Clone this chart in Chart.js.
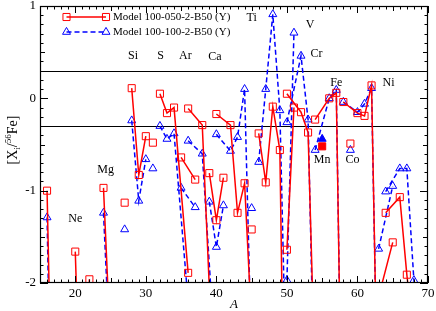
<!DOCTYPE html>
<html>
<head>
<meta charset="utf-8">
<script src="https://cdn.jsdelivr.net/npm/chart.js@4.4.0/dist/chart.umd.min.js"></script>
<style>
  html, body { margin: 0; padding: 0; background: #fff; }
</style>
</head>
<body>
<canvas id="chart" width="436" height="311"></canvas>
<script>
// Elements and their isotopes (mass number A)
const elements = ['O', 'Ne', 'Na', 'Mg', 'Al', 'Si', 'P', 'S', 'Cl', 'Ar', 'K', 'Ca', 'Sc', 'Ti', 'V', 'Cr', 'Mn', 'Fe', 'Co', 'Ni', 'Cu', 'Zn'];
const isotopes = [
  [16, 17, 18], [20, 21, 22], [23], [24, 25, 26], [27], [28, 29, 30], [31],
  [32, 33, 34, 36], [35, 37], [36, 38, 40], [39, 40, 41], [40, 42, 43, 44, 46, 48],
  [45], [46, 47, 48, 49, 50], [50, 51], [50, 52, 53, 54], [55], [54, 56, 57, 58],
  [59], [58, 60, 61, 62, 64], [63, 65], [64, 66, 67, 68, 70]
];

// [X_i/56Fe] for Model 100-050-2-B50 (Y)
const model050 = [
  [-1.00, -4.6, -4.5], [-1.66, -4.1, -1.96], [-2.4], [-0.97, -2.7, -2.5], [-1.13],
  [0.11, -0.83, -0.41], [-0.48], [0.05, -0.16, -0.10, -1.89], [-0.64, -0.88],
  [-0.11, -0.29, -3.8], [-0.81, -1.32, -0.86], [-0.17, -0.29, -1.24, -0.92, -4.0, -3.5],
  [-1.42], [-0.38, -0.91, -0.09, -0.56, -5.7], [-1.64, -0.10], [0.05, -0.15, -0.37, -3.1],
  [-0.52], [-0.23, 0.00, 0.06, -4.8], [-0.49], [-0.04, -0.16, -0.19, 0.14, -8],
  [-2.15, -1.56], [-1.24, -1.07, -1.91, -2.6, -3.0]
];

// [X_i/56Fe] for Model 100-100-2-B50 (Y)
const model100 = [
  [-1.29, -5.3, -5.0], [-2.6, -4.5, -2.7], [-2.6], [-1.24, -2.9, -2.7], [-1.42],
  [-0.24, -1.11, -0.66], [-0.76], [-0.30, -0.44, -0.38, -2.2], [-0.97, -1.18],
  [-0.46, -0.60, -3.0], [-1.12, -1.61, -1.16], [-0.39, -0.57, -0.42, 0.10, -5.8, -5.0],
  [-1.19], [-0.69, 0.10, 0.91, -0.13, -3.4], [-1.97, 0.71], [-0.26, 0.46, -0.23, -3.6],
  [-0.44], [-0.56, 0.00, 0.09, -4.8], [-0.56], [-0.04, -0.15, -0.06, 0.11, -8],
  [-1.63, -0.95], [-1.01, -0.76, -0.76, -1.97, -3.0]
];

// elements drawn with filled markers
const filledElements = ['Mn'];

// element name labels in the plot
const labelNames = ['Ne', 'Mg', 'Si', 'S', 'Ar', 'Ca', 'Ti', 'V', 'Cr', 'Fe', 'Ni', 'Mn', 'Co'];
const labelA =     [20.0, 24.3, 28.2, 32.1, 35.6, 39.8, 45.0, 53.3, 54.2, 57.0, 64.4, 55.0, 59.3];
const labelY =     [-1.31, -0.77, 0.46, 0.46, 0.46, 0.45, 0.87, 0.80, 0.48, 0.17, 0.17, -0.67, -0.67];

// axis ticks and reference lines
const xTicks = [20, 30, 40, 50, 60, 70];
const yTicks = [-2, -1, 0, 1];
const refLines = [0.3, -0.3];

const RED = 'rgb(255,0,0)';
const BLUE = 'rgb(0,0,255)';
const SERIF = '"Liberation Serif", "DejaVu Serif", serif';

// flatten into points, with a null between elements so lines break
function buildPoints(values) {
  const pts = [];
  elements.forEach((el, i) => {
    isotopes[i].forEach((a, j) => pts.push({ x: a, y: values[i][j], el: el }));
    pts.push({ x: isotopes[i][isotopes[i].length - 1], y: null, el: el });
  });
  return pts;
}

function fillFor(color) {
  return ctx => (ctx.raw && filledElements.includes(ctx.raw.el)) ? color : 'rgba(0,0,0,0)';
}

// Draws frame, inward ticks, labels, reference lines, legend and titles
const decorPlugin = {
  id: 'decor',
  beforeDatasetsDraw(chart) {
    const { ctx, chartArea: a, scales: { y } } = chart;
    ctx.save();
    ctx.strokeStyle = '#000';
    ctx.lineWidth = 1.2;
    refLines.forEach(v => {
      const py = Math.round(y.getPixelForValue(v)) + 0.5;
      ctx.beginPath();
      ctx.moveTo(a.left, py);
      ctx.lineTo(a.right, py);
      ctx.stroke();
    });
    ctx.restore();
  },
  afterDraw(chart) {
    const { ctx, chartArea: a, scales: { x, y } } = chart;
    ctx.save();
    ctx.strokeStyle = '#000';
    ctx.lineWidth = 1;

    // ticks
    ctx.beginPath();
    for (let v = 15; v <= 70; v++) {
      const px = Math.round(x.getPixelForValue(v)) + 0.5;
      const len = v % 10 === 0 ? 7 : (v % 5 === 0 ? 5 : 3.5);
      ctx.moveTo(px, a.bottom); ctx.lineTo(px, a.bottom - len);
      ctx.moveTo(px, a.top); ctx.lineTo(px, a.top + len);
    }
    for (let k = -20; k <= 10; k++) {
      const py = Math.round(y.getPixelForValue(k / 10)) + 0.5;
      const len = k % 10 === 0 ? 8 : (k % 5 === 0 ? 5 : 3.5);
      ctx.moveTo(a.left, py); ctx.lineTo(a.left + len, py);
      ctx.moveTo(a.right, py); ctx.lineTo(a.right - len, py);
    }
    ctx.stroke();

    // frame
    ctx.lineWidth = 1.2;
    ctx.strokeRect(a.left + 0.5, a.top + 0.5, a.right - a.left - 1, a.bottom - a.top - 1);

    // tick labels
    ctx.fillStyle = '#000';
    ctx.font = '13px ' + SERIF;
    ctx.textAlign = 'center';
    ctx.textBaseline = 'top';
    xTicks.forEach(v => ctx.fillText(String(v), x.getPixelForValue(v), a.bottom + 4));
    ctx.textAlign = 'right';
    ctx.textBaseline = 'middle';
    yTicks.forEach(v => ctx.fillText(v < 0 ? '-' + Math.abs(v) : String(v), a.left - 4, y.getPixelForValue(v)));

    // x title
    ctx.font = 'italic 13px ' + SERIF;
    ctx.textAlign = 'center';
    ctx.textBaseline = 'alphabetic';
    ctx.fillText('A', (a.left + a.right) / 2, 308);

    // y title: [X_i/56Fe]
    ctx.save();
    ctx.translate(15, 140);
    ctx.rotate(-Math.PI / 2);
    const big = '14px ' + SERIF, small = '9px ' + SERIF;
    const parts = [['[X', big, 0], ['i', small, 3], ['/', big, 0], ['56', small, -6], ['Fe]', big, 0]];
    let total = 0;
    parts.forEach(p => { ctx.font = p[1]; total += ctx.measureText(p[0]).width; });
    let cx = -total / 2;
    ctx.textAlign = 'left';
    parts.forEach(p => { ctx.font = p[1]; ctx.fillText(p[0], cx, 2 + p[2]); cx += ctx.measureText(p[0]).width; });
    ctx.restore();

    // element labels
    ctx.font = '12px ' + SERIF;
    ctx.textAlign = 'center';
    ctx.textBaseline = 'middle';
    labelNames.forEach((n, i) => ctx.fillText(n, x.getPixelForValue(labelA[i]), y.getPixelForValue(labelY[i])));

    // legend
    const rows = [
      { label: 'Model 100-050-2-B50 (Y)', color: RED, dash: [], style: 'rect', r: 5, ty: 17 },
      { label: 'Model 100-100-2-B50 (Y)', color: BLUE, dash: [5, 3], style: 'triangle', r: 4.6, ty: 32 }
    ];
    rows.forEach(row => {
      ctx.strokeStyle = row.color;
      ctx.lineWidth = 1.5;
      ctx.setLineDash(row.dash);
      ctx.beginPath();
      ctx.moveTo(66.5, row.ty); ctx.lineTo(106, row.ty);
      ctx.stroke();
      ctx.setLineDash([]);
      ctx.lineWidth = 1;
      ctx.fillStyle = 'rgba(0,0,0,0)';
      [66.5, 106].forEach(px => {
        Chart.helpers.drawPoint(ctx, { pointStyle: row.style, radius: row.r, borderWidth: 1 }, px, row.ty);
      });
      ctx.fillStyle = '#000';
      ctx.font = '11px ' + SERIF;
      ctx.textAlign = 'left';
      ctx.textBaseline = 'middle';
      ctx.fillText(row.label, 113, row.ty);
    });
    ctx.restore();
  }
};

new Chart(document.getElementById('chart').getContext('2d'), {
  type: 'line',
  data: {
    datasets: [
      {
        label: 'Model 100-050-2-B50 (Y)',
        data: buildPoints(model050),
        borderColor: RED,
        borderWidth: 1.5,
        pointStyle: 'rect',
        pointRadius: 5,
        pointBorderWidth: 1,
        pointBorderColor: RED,
        pointBackgroundColor: fillFor(RED),
        spanGaps: false,
        tension: 0
      },
      {
        label: 'Model 100-100-2-B50 (Y)',
        data: buildPoints(model100),
        borderColor: BLUE,
        borderWidth: 1.5,
        borderDash: [5, 3],
        pointStyle: 'triangle',
        pointRadius: 4.6,
        pointBorderWidth: 1,
        pointBorderColor: BLUE,
        pointBackgroundColor: fillFor(BLUE),
        spanGaps: false,
        tension: 0
      }
    ]
  },
  options: {
    responsive: false,
    animation: false,
    devicePixelRatio: 1,
    layout: { padding: { left: 40, right: 8, top: 5, bottom: 28 } },
    scales: {
      x: { type: 'linear', min: 15, max: 70, display: false },
      y: { type: 'linear', min: -2, max: 1, display: false }
    },
    plugins: {
      legend: { display: false },
      tooltip: { enabled: false }
    }
  },
  plugins: [decorPlugin]
});
</script>
</body>
</html>
